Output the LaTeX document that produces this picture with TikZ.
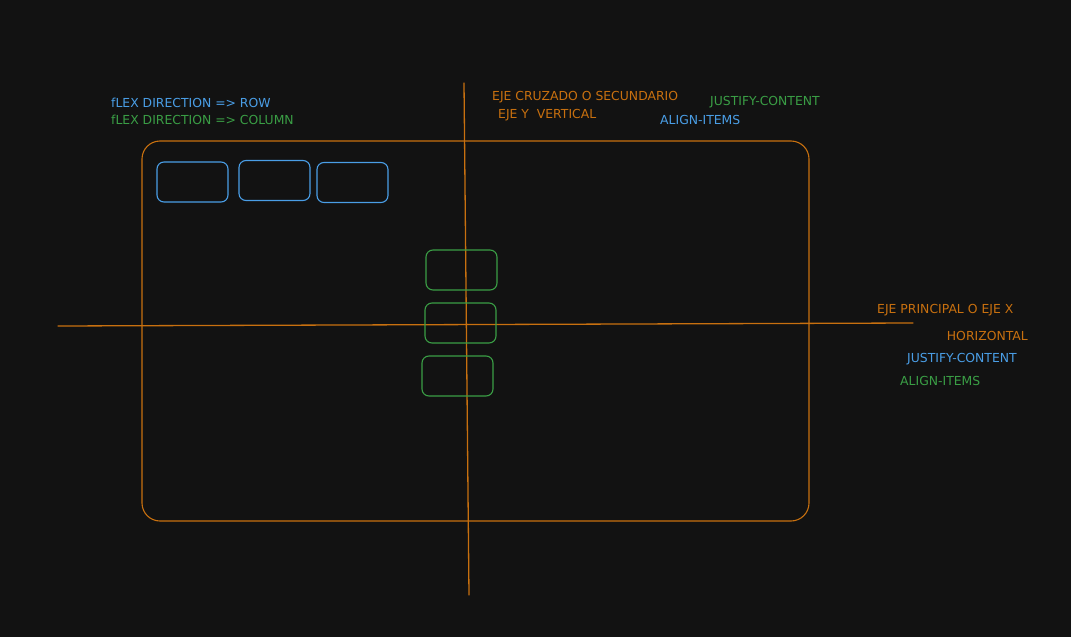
\documentclass[tikz,border=0pt]{standalone}
\usepackage{fontspec}
\setmainfont{DejaVu Sans}
\definecolor{fondo}{HTML}{121212}
\definecolor{naranja}{HTML}{C8700F}
\definecolor{azul}{HTML}{4A9EE6}
\definecolor{verde}{HTML}{3A9E45}
\begin{document}
\begin{tikzpicture}[x=1pt,y=-1pt,line cap=round,font=\fontsize{12.4}{14}\selectfont,
  caja/.style={draw,line width=1.1pt,rounded corners=7pt,minimum width=71pt,minimum height=40pt,inner sep=0pt},
  rotulo/.style={anchor=west,inner sep=0pt}]
  \useasboundingbox[fill=fondo] (0,0) rectangle (1071,637);
  % contenedor y ejes
  \draw[naranja,line width=1.1pt,rounded corners=18pt] (142,141) rectangle (809,521);
  \coordinate (xa) at (58,326); \coordinate (xb) at (913,323);
  \coordinate (ya) at (464,83); \coordinate (yb) at (469,595);
  \draw[naranja,line width=1.3pt] (xa)--(xb);
  \draw[naranja,line width=1.3pt] (ya)--(yb);
  % fila
  \node[caja,azul] (f1) at (192.5,182) {};
  \node[caja,azul] (f2) at (274.5,180.5) {};
  \node[caja,azul] (f3) at (352.5,182.5) {};
  % columna
  \node[caja,verde] (c1) at (461.5,270) {};
  \node[caja,verde] (c2) at (460.5,323) {};
  \node[caja,verde] (c3) at (457.5,376) {};
  % textos
  \node[rotulo,azul] (t1) at (111,103) {fLEX DIRECTION => ROW};
  \node[rotulo,verde] (t2) at (111,120) {fLEX DIRECTION => COLUMN};
  \node[rotulo,naranja] (t3) at (492,97) {EJE CRUZADO O SECUNDARIO};
  \node[rotulo,naranja] (t4) at (498,115) {EJE Y\ \ VERTICAL};
  \node[rotulo,verde] (t5) at (710,102) {JUSTIFY-CONTENT};
  \node[rotulo,azul] (t6) at (660,120) {ALIGN-ITEMS};
  \node[rotulo,naranja] (t7) at (877,310) {EJE PRINCIPAL O EJE X};
  \node[rotulo,naranja,anchor=east] (t8) at (1028,336) {HORIZONTAL};
  \node[rotulo,azul] (t9) at (907,359) {JUSTIFY-CONTENT};
  \node[rotulo,verde] (t10) at (900,381) {ALIGN-ITEMS};
\end{tikzpicture}
\end{document}
